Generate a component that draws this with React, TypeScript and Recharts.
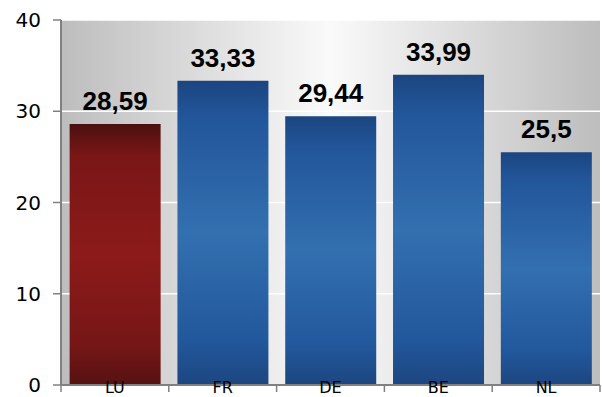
import { BarChart, Bar, XAxis, YAxis, CartesianGrid, Cell, LabelList } from 'recharts';

const countries = ['LU', 'FR', 'DE', 'BE', 'NL'];
const values = [28.59, 33.33, 29.44, 33.99, 25.5];
const yTicks = [0, 10, 20, 30, 40];

const chartData = countries.map((country, i) => ({ country, value: values[i] }));

// x tick: label sits over the bar bottom, tick mark drawn at the left band edge
function CountryTick(props: any) {
  const { x, y, payload, index } = props;
  const band = (600 - 61) / countries.length;
  const left = x - band / 2;
  const axisY = y - 8;
  return (
    <g>
      <line x1={left} y1={axisY} x2={left} y2={axisY + 7} stroke="#808080" strokeWidth={1.5} />
      {index === countries.length - 1 && (
        <line x1={left + band} y1={axisY} x2={left + band} y2={axisY + 7} stroke="#808080" strokeWidth={1.5} />
      )}
      <text x={x} y={axisY + 8} textAnchor="middle" fontSize={16} fill="#000" fontFamily="DejaVu Sans, sans-serif">
        {payload.value}
      </text>
    </g>
  );
}

export default function App() {
  return (
    <div style={{ position: 'absolute', left: 0, top: 0, width: 602, height: 397, background: '#fff' }}>
      <BarChart
        width={602}
        height={397}
        data={chartData}
        margin={{ top: 20, right: 2, left: 0, bottom: 0 }}
        barCategoryGap="8%"
      >
        <defs>
          <linearGradient id="bgGrad" x1="0" y1="0" x2="1" y2="0">
            <stop offset="0%" stopColor="#bdbdbd" />
            <stop offset="50%" stopColor="#fafafa" />
            <stop offset="100%" stopColor="#bdbdbd" />
          </linearGradient>
          <linearGradient id="blueGrad" x1="0" y1="0" x2="0" y2="1">
            <stop offset="0%" stopColor="#1b4580" />
            <stop offset="12%" stopColor="#22569a" />
            <stop offset="50%" stopColor="#3370b0" />
            <stop offset="85%" stopColor="#22589c" />
            <stop offset="100%" stopColor="#1c4680" />
          </linearGradient>
          <linearGradient id="redGrad" x1="0" y1="0" x2="0" y2="1">
            <stop offset="0%" stopColor="#4a1010" />
            <stop offset="12%" stopColor="#7a1616" />
            <stop offset="50%" stopColor="#8c1a1a" />
            <stop offset="85%" stopColor="#761616" />
            <stop offset="100%" stopColor="#561111" />
          </linearGradient>
        </defs>
        <CartesianGrid vertical={false} stroke="#ffffff" strokeWidth={1.5} fill="url(#bgGrad)" />
        <XAxis
          dataKey="country"
          axisLine={{ stroke: '#808080', strokeWidth: 2 }}
          tickLine={false}
          tick={<CountryTick />}
          height={12}
          interval={0}
        />
        <YAxis
          domain={[0, 40]}
          ticks={yTicks}
          width={61}
          axisLine={{ stroke: '#808080', strokeWidth: 2 }}
          tickLine={{ stroke: '#808080', strokeWidth: 1.5 }}
          tickSize={8}
          tickMargin={12}
          tick={{ fontSize: 20, fill: '#000', fontFamily: 'DejaVu Sans, sans-serif' }}
        />
        <Bar dataKey="value" isAnimationActive={false}>
          {chartData.map((d, i) => (
            <Cell key={d.country} fill={i === 0 ? 'url(#redGrad)' : 'url(#blueGrad)'} />
          ))}
          <LabelList
            dataKey="value"
            position="top"
            offset={14}
            formatter={(v: any) => String(v).replace('.', ',')}
            style={{ fontSize: 26, fontWeight: 'bold', fill: '#000', fontFamily: 'Liberation Sans, Arial, sans-serif' }}
          />
        </Bar>
      </BarChart>
    </div>
  );
}
